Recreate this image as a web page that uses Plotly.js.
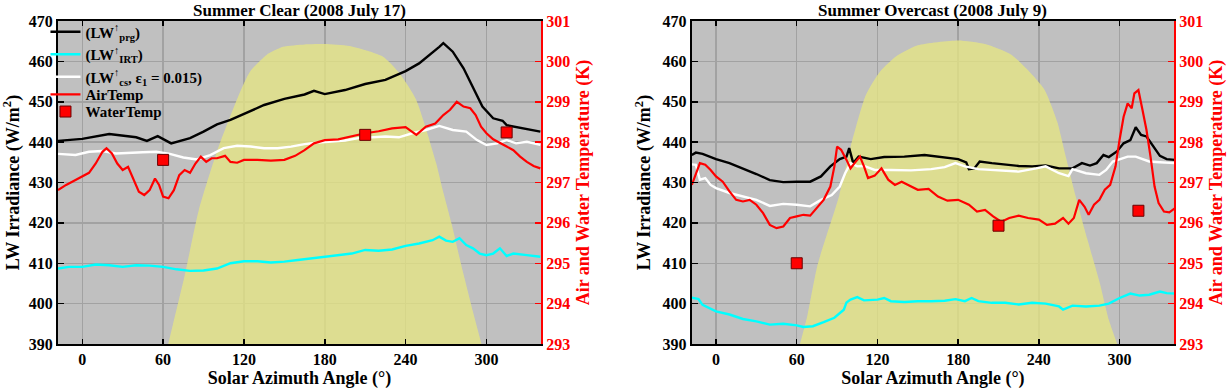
<!DOCTYPE html>
<html>
<head>
<meta charset="utf-8">
<script src="https://cdn.plot.ly/plotly-3.0.1.min.js"></script>
<style>
  html, body { margin: 0; padding: 0; background: #fff; }
  #chart { width: 1229px; height: 389px; }
</style>
</head>
<body>
<div id="chart"></div>
<script>
// ---- Summer Clear (2008 July 17), left panel ----
var prgAzL = [-18,0,20,40,48,56,66,80,90,100,110,120,135,150,165,172,180,195,210,225,240,250,258,265,268,275,283,290,297,305,312,315,325,335,340];
var prgL = [440.3,440.8,442,441.2,440.3,441.5,439.7,441,442.6,444.4,445.5,446.9,449.2,450.7,451.8,452.7,451.9,452.9,454.4,455.4,457.6,459.5,461.6,463.6,464.5,462.4,458.3,453.7,448.8,445.9,445.3,444.2,443.6,443,442.6];

var irtAzL = [-18,-10,0,10,20,30,40,50,60,70,80,90,100,110,120,130,140,150,160,170,180,190,200,210,220,230,240,250,260,265,270,275,280,285,290,295,300,305,310,315,320,330,340];
var irtL = [408.7,409.1,409.1,409.7,409.5,409.1,409.5,409.4,409.1,408.5,408.1,408.2,408.7,410,410.5,410.5,410.2,410.4,410.8,411.2,411.6,411.9,412.4,413.3,413.1,413.4,414.3,414.9,415.7,416.6,415.6,415.3,416.2,414.5,413.7,412.4,412,412.4,413.7,411.8,412.4,412,411.6];

var csAzL = [-18,-5,5,15,25,35,45,55,65,75,85,95,105,115,125,135,145,155,165,175,185,195,205,215,225,235,245,255,265,275,285,293,300,308,315,322,330,340];
var csL = [437.1,436.8,437.6,437.8,437.2,437.4,437.5,437.6,437.1,436.2,435.7,436.8,438.5,439.1,438.9,438.5,438.5,438.9,439.5,439.9,440.1,440.4,441,441.2,441.4,441.2,442.2,443,444,443,442.6,440.5,439.3,439.7,440.5,439.7,440.1,439.3];

var airAzL = [-18,-12,-5,0,5,10,15,18,22,26,30,34,38,42,46,50,54,57,60,64,68,72,76,80,84,88,92,96,100,106,110,115,120,130,140,150,158,165,172,180,190,200,210,220,230,240,248,255,262,268,273,278,283,288,292,296,300,305,310,315,320,325,330,335,340];
var airL = [296.81,296.94,297.06,297.14,297.24,297.47,297.76,297.85,297.72,297.47,297.31,297.39,297.10,296.77,296.69,296.81,297.10,296.94,296.65,296.61,296.81,297.18,297.31,297.24,297.47,297.64,297.51,297.60,297.60,297.66,297.51,297.49,297.56,297.56,297.54,297.56,297.66,297.80,297.97,298.05,298.07,298.15,298.22,298.27,298.34,298.37,298.18,298.38,298.46,298.67,298.80,299.00,298.88,298.84,298.67,298.38,298.22,298.07,297.97,297.89,297.80,297.64,297.51,297.41,297.35];

var waterAzL = [60, 210, 315];
var waterL = [297.56, 298.18, 298.24];

var sunAzL = [63.8,67.2,76.1,86.5,100,116.2,124.6,136.8,149,165,180,198.4,223,235.3,247.8,262.6,267.5,274,281,290,296.3];
var sunL = [390,394.7,407.1,423.2,437.7,451.7,457.5,461.6,463.6,464.2,464.3,463.8,461.2,457.1,450.5,434.9,428.2,420,410,398,390];

// ---- Summer Overcast (2008 July 9), right panel ----
var prgAzR = [-18,-15,-10,0,10,20,30,40,50,60,70,78,85,92,97,99,102,106,115,125,140,155,170,180,186,188,192,196,205,215,225,235,245,255,265,272,278,283,288,292,298,303,308,312,316,320,325,330,335,341];
var prgR = [436.8,437.4,437.1,435.8,434.8,433.5,432.1,430.6,430.1,430.2,430.2,431.5,434,435.8,436.4,438.5,434.8,436.4,435.8,436.3,436.4,436.8,436.3,435.8,435,433.3,433.5,435.2,434.8,434.4,434.1,434,434.2,433.5,433.5,434.8,434.2,434.8,436.8,436.3,437.7,439.7,440.5,443.7,441.8,441.4,438.9,436.6,435.8,435.6];

var irtAzR = [-18,-13,-10,0,10,20,30,40,50,60,65,72,80,88,95,97,100,105,110,120,125,130,140,150,160,170,178,185,190,195,205,215,225,235,245,255,258,265,275,285,292,300,308,315,322,330,335,341];
var irtR = [401.5,401.1,399.7,398.1,397.3,396.2,395.6,394.8,395,394.6,394.2,394.4,395.4,396.5,398.5,400.3,401,401.6,400.8,401,401.4,400.6,400.4,400.6,400.6,400.7,401.1,400.6,401.4,400.6,400.2,400.2,399.8,400.2,400,399.3,398.5,399.5,399.3,399.5,400,401.4,402.5,402,402.2,403,402.6,402.5];

var csAzR = [-18,-15,-12,-8,-4,0,10,20,30,40,50,60,70,78,86,92,96,100,105,110,118,130,145,160,170,178,185,195,210,225,238,245,255,262,265,275,285,290,295,300,306,312,315,322,330,341];
var csR = [434.5,434.4,430.7,431.1,429.4,428.6,427.4,426.5,425.7,424.2,424.7,424.5,424.1,425.7,426.9,429,432.3,434.8,434,434.1,433.1,433.1,433,433.3,433.8,434.8,434,433.3,433,432.7,433.5,434,432.3,431.6,433.3,432.3,431.9,433.1,435.2,435.8,436.4,436.4,436,435.2,435,434.8];

var airAzR = [-18,-15,-12,-8,-4,0,5,10,15,20,25,30,35,40,45,50,55,60,65,70,75,80,85,88,90,93,97,100,103,107,110,113,118,123,128,133,138,143,150,158,165,172,180,188,194,200,206,212,218,225,232,240,246,252,258,262,266,270,274,277,281,285,289,293,297,300,303,306,309,311,314,317,320,323,326,329,333,337,341];
var airR = [296.94,297.23,297.48,297.44,297.31,297.15,297.02,296.78,296.57,296.53,296.57,296.45,296.24,295.95,295.87,295.91,296.12,296.16,296.20,296.18,296.37,296.57,296.90,297.40,297.89,297.81,297.56,297.35,297.48,297.64,297.40,297.11,297.17,297.35,297.07,296.94,297.02,296.94,296.82,296.84,296.65,296.55,296.57,296.45,296.28,296.32,296.16,296.03,296.12,296.18,296.12,296.08,295.95,295.98,296.12,295.98,296.12,296.57,296.40,296.20,296.45,296.57,296.82,296.94,297.40,298.06,298.63,298.96,298.84,299.21,299.29,298.80,298.30,297.64,296.90,296.49,296.28,296.26,296.36];

var waterAzR = [60, 210, 314];
var waterR = [295.0, 295.93, 296.30];

var sunAzR = [62.4,68,75.5,91.6,100.3,111.4,122,135,150,180,200,219.8,243.6,253.6,259.7,267.2,276,285,292,298.2];
var sunR = [390,397.2,409.6,426.8,439.2,451.7,457.5,461.5,464,465.2,464.3,461.6,453.3,445.1,436.8,426.8,416,405.5,396,390];

var legendNames = [
  '(LW<sup>↑</sup><sub>prg</sub>)',
  '(LW<sup>↑</sup><sub>IRT</sub>)',
  '(LW<sup>↑</sup><sub>cs</sub>, ε<sub>1</sub> = 0.015)',
  'AirTemp',
  'WaterTemp'
];

var FONT = 'Liberation Serif, Times New Roman, serif';
var sunFill = 'rgba(231,231,129,0.75)';

function panel(xa, ya, ya2, sunAz, sun, prgAz, prg, irtAz, irt, csAz, cs, airAz, air, wAz, w, legend) {
  return [
    {x: sunAz, y: sun, xaxis: xa, yaxis: ya, type: 'scatter', mode: 'none',
     fill: 'tozeroy', fillcolor: sunFill, line: {shape: 'spline', smoothing: 0.6},
     showlegend: false, hoverinfo: 'skip'},
    {x: prgAz, y: prg, xaxis: xa, yaxis: ya, mode: 'lines', name: legendNames[0],
     line: {color: 'black', width: 2.4}, showlegend: legend},
    {x: irtAz, y: irt, xaxis: xa, yaxis: ya, mode: 'lines', name: legendNames[1],
     line: {color: '#00ffff', width: 2.4}, showlegend: legend},
    {x: csAz, y: cs, xaxis: xa, yaxis: ya, mode: 'lines', name: legendNames[2],
     line: {color: 'white', width: 2.4}, showlegend: legend},
    {x: airAz, y: air, xaxis: xa, yaxis: ya2, mode: 'lines', name: legendNames[3],
     line: {color: 'red', width: 2.2}, showlegend: legend, legend: 'legend2'},
    {x: wAz, y: w, xaxis: xa, yaxis: ya2, mode: 'markers', name: legendNames[4],
     marker: {symbol: 'square', size: 11, color: 'red', line: {color: '#6a0000', width: 1}},
     showlegend: legend, legend: 'legend3'}
  ];
}

var data = [].concat(
  panel('x', 'y', 'y2', sunAzL, sunL, prgAzL, prgL, irtAzL, irtL, csAzL, csL, airAzL, airL, waterAzL, waterL, true),
  panel('x2', 'y3', 'y4', sunAzR, sunR, prgAzR, prgR, irtAzR, irtR, csAzR, csR, airAzR, airR, waterAzR, waterR, false)
);

function tickFont(c) { return {family: FONT, size: 16, color: c, weight: 'bold'}; }
function titleFont(c) { return {family: FONT, size: 18, color: c, weight: 'bold'}; }

function xAxis(domain, anchor) {
  return {
    domain: domain, anchor: anchor, range: [-18, 340.5],
    tickvals: [0, 60, 120, 180, 240, 300],
    ticks: 'inside', ticklen: 5, tickwidth: 1.5, tickcolor: 'black',
    showline: true, linewidth: 2, linecolor: 'black', mirror: 'ticks',
    showgrid: true, gridcolor: '#a2a2a2', gridwidth: 1.5, zeroline: false,
    tickfont: tickFont('black'),
    title: {text: 'Solar Azimuth Angle (°)', font: titleFont('black'), standoff: 4}
  };
}
function yAxis(anchor) {
  return {
    anchor: anchor, domain: [0, 1], range: [390, 470], dtick: 10,
    ticks: 'inside', ticklen: 6, tickwidth: 1.5, tickcolor: 'black',
    showline: true, linewidth: 2, linecolor: 'black',
    showgrid: true, gridcolor: '#a2a2a2', gridwidth: 1.5, zeroline: false,
    tickfont: tickFont('black'),
    title: {text: 'LW Irradiance (W/m<sup>2</sup>)', font: titleFont('black'), standoff: 7}
  };
}
function y2Axis(anchor, over) {
  return {
    anchor: anchor, overlaying: over, side: 'right', range: [293, 301], dtick: 1,
    ticks: 'inside', ticklen: 6, tickwidth: 1.5, tickcolor: 'red',
    showline: true, linewidth: 2, linecolor: 'red',
    showgrid: false, zeroline: false,
    tickfont: tickFont('red'),
    title: {text: 'Air and Water Temperature (K)', font: titleFont('red'), standoff: 7}
  };
}

var legendFont = {family: FONT, size: 15, color: 'black', weight: 'bold'};
function legendAt(y) {
  return {x: 0.037, y: y, xanchor: 'left', yanchor: 'top',
          bgcolor: 'rgba(0,0,0,0)', borderwidth: 0, tracegroupgap: 0, font: legendFont};
}

var layout = {
  width: 1229, height: 389,
  margin: {l: 0, r: 0, t: 21, b: 45},
  paper_bgcolor: 'white', plot_bgcolor: '#c0c0c0',
  font: {family: FONT, color: 'black'},
  xaxis: xAxis([0.0472, 0.4402], 'y'),
  yaxis: yAxis('x'),
  yaxis2: y2Axis('x', 'y'),
  xaxis2: xAxis([0.5629, 0.9553], 'y3'),
  yaxis3: yAxis('x2'),
  yaxis4: y2Axis('x2', 'y3'),
  showlegend: true,
  legend: legendAt(1.017),
  legend2: legendAt(0.823),
  legend3: legendAt(0.770),
  annotations: [
    {text: 'Summer Clear (2008 July 17)', xref: 'paper', yref: 'paper',
     x: (0.0472 + 0.4402) / 2, y: 1.065, xanchor: 'center', yanchor: 'top', showarrow: false,
     borderpad: 0, font: {family: FONT, size: 17, color: 'black', weight: 'bold'}},
    {text: 'Summer Overcast (2008 July 9)', xref: 'paper', yref: 'paper',
     x: (0.5629 + 0.9553) / 2, y: 1.065, xanchor: 'center', yanchor: 'top', showarrow: false,
     borderpad: 0, font: {family: FONT, size: 17, color: 'black', weight: 'bold'}}
  ]
};

Plotly.newPlot('chart', data, layout, {displayModeBar: false, staticPlot: true});
</script>
</body>
</html>
